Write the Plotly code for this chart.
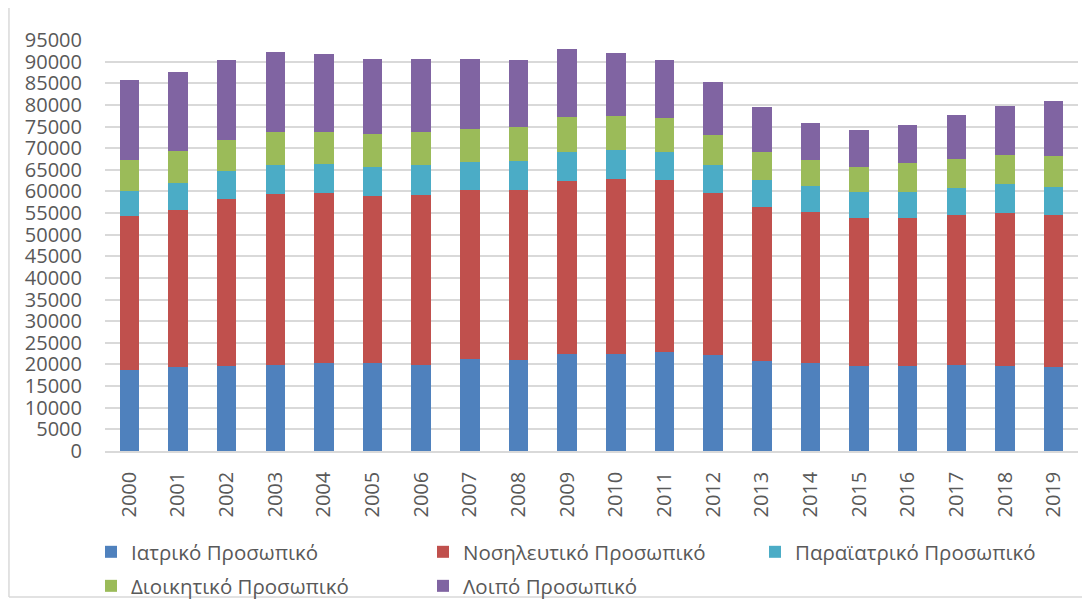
import plotly.graph_objects as go

# Years on the x axis
years = [str(y) for y in range(2000, 2020)]

# Staff per category (stacked)
iatriko = [18700, 19400, 19700, 19950, 20300, 20300, 19950, 21300, 21100, 22400,
           22500, 22800, 22200, 20700, 20300, 19700, 19700, 19950, 19700, 19400]
nosileftiko = [35600, 36400, 38500, 39550, 39300, 38600, 39250, 39100, 39300, 39900,
               40400, 39800, 37400, 35800, 34900, 34200, 34200, 34650, 35400, 35200]
paraiatriko = [5800, 6200, 6500, 6500, 6700, 6800, 6800, 6300, 6600, 6900,
               6600, 6600, 6500, 6100, 6100, 5900, 6000, 6300, 6600, 6400]
dioikitiko = [7200, 7400, 7200, 7800, 7500, 7600, 7800, 7700, 7900, 8000,
              7900, 7800, 7000, 6600, 5900, 5800, 6600, 6600, 6800, 7300]
loipo = [18500, 18200, 18500, 18500, 18000, 17400, 16900, 16100, 15500, 15700,
         14500, 13400, 12200, 10300, 8600, 8500, 8900, 10200, 11200, 12600]

series = [
    ("Ιατρικό Προσωπικό", iatriko, "#4f81bd", "legend"),
    ("Νοσηλευτικό Προσωπικό", nosileftiko, "#c0504d", "legend"),
    ("Παραϊατρικό Προσωπικό", paraiatriko, "#4bacc6", "legend"),
    ("Διοικητικό Προσωπικό", dioikitiko, "#9bbb59", "legend2"),
    ("Λοιπό Προσωπικό", loipo, "#8064a2", "legend2"),
]

fig = go.Figure()
for name, vals, color, leg in series:
    fig.add_trace(go.Bar(x=years, y=vals, name=name, marker_color=color,
                         marker_line_width=0, legend=leg))

# the page body adds an 8px offset, so margins are shifted to compensate
legend_style = dict(
    orientation="h",
    x=-0.0144, xanchor="left",
    yanchor="middle",
    entrywidth=287,
    traceorder="normal",
    font=dict(size=20.5, family="Open Sans, sans-serif", color="#595959"),
    bgcolor="rgba(0,0,0,0)",
)

fig.update_layout(
    barmode="stack",
    bargap=0.6,
    width=1090,
    height=599,
    margin=dict(l=97, r=20, t=32, b=156, autoexpand=False),
    plot_bgcolor="white",
    paper_bgcolor="white",
    font=dict(family="Open Sans, Liberation Sans, sans-serif", color="#595959"),
    legend=dict(legend_style, y=-0.2457),
    legend2=dict(legend_style, y=-0.3285),
    shapes=[
        dict(type="line", xref="paper", yref="paper", x0=-0.0987, x1=-0.0987,
             y0=-0.355, y1=1.1, line=dict(color="#d9d9d9", width=1.5)),
        dict(type="line", xref="paper", yref="paper", x0=-0.0987, x1=1.02,
             y0=-0.355, y1=-0.355, line=dict(color="#d9d9d9", width=1.5)),
    ],
)
fig.update_yaxes(
    range=[0, 95000],
    dtick=5000,
    tickformat="d",
    showgrid=True,
    gridcolor="#d9d9d9",
    gridwidth=1.5,
    zeroline=False,
    tickfont=dict(size=20),
    ticks="",
    ticklabelstandoff=22,
    automargin=False,
)
fig.update_xaxes(
    tickangle=-90,
    tickfont=dict(size=20),
    showline=True,
    linecolor="#d9d9d9",
    linewidth=1.5,
    ticks="",
    ticklabelstandoff=11,
    automargin=False,
)

fig.write_html("out.html")
